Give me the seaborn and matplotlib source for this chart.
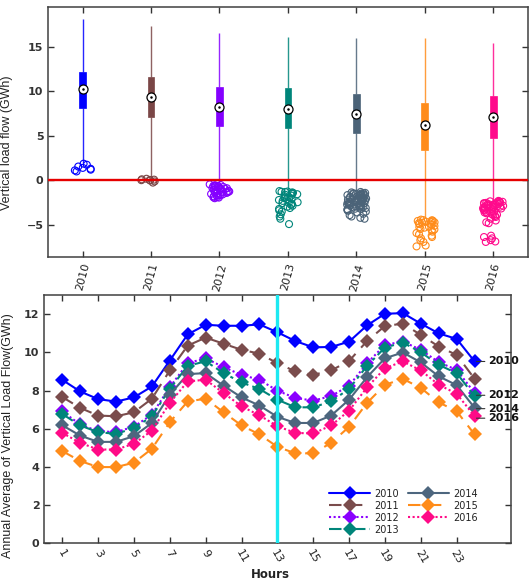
import numpy as np
import pandas as pd
import matplotlib
matplotlib.use("Agg")
import matplotlib.pyplot as plt
import seaborn as sns
from matplotlib.lines import Line2D
from matplotlib.legend_handler import HandlerLine2D

# ---------------- data ----------------
years = ["2010", "2011", "2012", "2013", "2014", "2015", "2016"]
colors = ["#0000ff", "#7a4646", "#8400ff", "#00857a", "#4b6378", "#ff8c1a", "#ff0a8c"]

# box statistics (GWh) for the top panel: whisker low, Q1, median, Q3, whisker high
whis_lo = [1.9, 0.2, -0.25, -1.05, -1.2, -4.2, -2.15]
q1 = [8.1, 7.05, 6.12, 5.82, 5.3, 3.43, 4.74]
med = [10.22, 9.29, 8.2, 8.02, 7.46, 6.23, 7.13]
q3 = [12.2, 11.53, 10.45, 10.34, 9.7, 8.62, 9.4]
whis_hi = [18.06, 17.3, 16.57, 16.1, 15.9, 16.0, 15.45]

# outliers per year
o2010 = [1.87, 1.75, 1.55, 1.4, 1.3, 1.2, 1.12, 1.0]
o2011 = [0.12, 0.05, 0.02, -0.02, 0.08, 0.18, -0.12, -0.25]
o2012 = [-0.45, -0.52, -0.58, -0.63, -0.7, -0.74, -0.81, -0.86, -0.92, -0.97, -1.03, -1.08,
         -1.12, -1.18, -1.24, -1.29, -1.33, -1.41, -1.46, -1.52, -1.58, -1.63, -1.71, -1.78,
         -1.86, -1.93, -2.0, -0.55, -0.68, -0.88, -1.02, -1.21, -1.38, -1.66, -1.9, -0.62, -0.95]
o2013 = [-1.2, -1.25, -1.3, -1.35, -1.4, -1.45, -1.5, -1.62, -1.7, -1.8, -1.92, -2.0, -2.1,
         -2.2, -2.3, -2.45, -2.55, -2.62, -2.75, -2.85, -2.95, -3.1, -3.2, -3.35, -3.5, -3.8,
         -4.05, -4.3, -4.9, -1.28, -1.55, -2.05, -2.5]
o2014 = [-1.3, -1.35, -1.4, -1.42, -1.48, -1.5, -1.55, -1.6, -1.63, -1.7, -1.72, -1.78, -1.8,
         -1.85, -1.9, -1.93, -2.0, -2.02, -2.08, -2.1, -2.15, -2.2, -2.24, -2.3, -2.33, -2.4,
         -2.42, -2.48, -2.5, -2.55, -2.6, -2.63, -2.7, -2.72, -2.8, -2.85, -2.9, -2.95, -3.0,
         -3.05, -3.1, -3.18, -3.25, -3.3, -3.4, -3.5, -3.6, -3.75, -3.9, -4.05, -4.2, -4.3,
         -1.45, -1.65, -1.88, -2.12, -2.36, -2.58, -2.76, -2.98, -3.22, -1.52, -2.27, -2.66]
o2015 = [-4.4, -4.45, -4.5, -4.55, -4.6, -4.65, -4.7, -4.75, -4.8, -4.9, -5.0, -5.1, -5.2,
         -5.3, -5.45, -5.6, -5.75, -5.9, -6.05, -6.2, -6.35, -6.5, -6.7, -6.9, -7.3, -7.4,
         -4.48, -4.62, -4.85, -5.25, -5.5]
o2016 = [-2.3, -2.35, -2.4, -2.45, -2.5, -2.55, -2.6, -2.65, -2.7, -2.75, -2.8, -2.85, -2.9,
         -2.95, -3.0, -3.05, -3.1, -3.15, -3.2, -3.3, -3.4, -3.5, -3.6, -3.7, -3.8, -3.9, -4.0,
         -4.1, -4.3, -4.5, -4.7, -4.8, -2.38, -2.52, -2.68, -2.82, -2.98, -3.12, -3.28, -3.45,
         -3.62, -3.85, -2.42, -2.6, -2.9, -6.2, -6.35, -6.5, -6.7, -6.85, -6.9]
outliers = [o2010, o2011, o2012, o2013, o2014, o2015, o2016]

# hourly annual averages (GWh)
hours = list(range(1, 25))
v2010 = [8.56, 7.95, 7.55, 7.42, 7.64, 8.21, 9.57, 10.94, 11.44, 11.39, 11.39, 11.46,
         11.05, 10.59, 10.26, 10.28, 10.56, 11.41, 12.02, 12.05, 11.50, 10.99, 10.70, 9.52]
v2011 = [7.66, 7.09, 6.69, 6.65, 6.86, 7.57, 9.05, 10.35, 10.77, 10.45, 10.13, 9.93,
         9.43, 9.00, 8.82, 9.05, 9.55, 10.59, 11.38, 11.50, 10.91, 10.30, 9.86, 8.61]
v2012 = [6.91, 6.22, 5.87, 5.82, 6.11, 6.74, 8.18, 9.43, 9.69, 9.22, 8.82, 8.56,
         7.99, 7.61, 7.47, 7.71, 8.25, 9.43, 10.39, 10.56, 10.13, 9.48, 9.08, 7.87]
v2013 = [6.77, 6.17, 5.82, 5.73, 6.03, 6.65, 8.09, 9.29, 9.53, 8.91, 8.42, 8.08,
         7.52, 7.12, 7.12, 7.43, 8.09, 9.29, 10.25, 10.51, 10.00, 9.34, 8.91, 7.69]
v2014 = [6.18, 5.64, 5.31, 5.31, 5.61, 6.30, 7.78, 8.86, 8.91, 8.25, 7.64, 7.21,
         6.62, 6.30, 6.30, 6.69, 7.52, 8.70, 9.69, 9.99, 9.47, 8.74, 8.28, 7.09]
v2015 = [4.83, 4.31, 3.99, 3.99, 4.22, 4.95, 6.34, 7.43, 7.57, 6.86, 6.17, 5.70,
         5.05, 4.71, 4.71, 5.26, 6.10, 7.35, 8.30, 8.61, 8.13, 7.38, 6.91, 5.70]
v2016 = [5.78, 5.26, 4.91, 4.91, 5.21, 5.90, 7.35, 8.48, 8.56, 7.87, 7.17, 6.70,
         6.13, 5.78, 5.75, 6.17, 6.95, 8.16, 9.17, 9.52, 9.05, 8.30, 7.83, 6.65]
series = [v2010, v2011, v2012, v2013, v2014, v2015, v2016]
line_colors = ["#0000ff", "#7a4c4c", "#8a00ff", "#00857a", "#4d667e", "#ff8c1a", "#ff0a87"]
end_labels = ["2010", "2012", "2014", "2016"]
end_label_y = [9.52, 7.75, 7.05, 6.55]
hour_ticks = list(range(1, 24, 2))

# ---------------- style ----------------
sns.set_theme(style="ticks")
plt.rcParams["font.family"] = ["DejaVu Sans"]
plt.rcParams["axes.edgecolor"] = "#404040"
plt.rcParams["axes.linewidth"] = 1.1
narrow = ["Liberation Sans Narrow", "Liberation Sans", "DejaVu Sans"]

fig = plt.figure(figsize=(5.31, 5.85), dpi=100)
ax1 = fig.add_axes([0.091, 0.5602, 0.9025, 0.4274])
ax2 = fig.add_axes([0.0834, 0.0713, 0.878, 0.4244])

# ---------------- top panel ----------------
box_df = pd.DataFrame({
    "year": np.repeat(years, 5),
    "flow": np.ravel(np.column_stack([whis_lo, q1, med, q3, whis_hi])),
})
for y, c in zip(years, colors):
    sub = box_df[box_df["year"] == y]
    sns.boxplot(data=sub, x="year", y="flow", order=years, ax=ax1, width=0.1,
                whis=(0, 100), showcaps=False, showfliers=False, color=c,
                linecolor=c, saturation=1, linewidth=0.5,
                whiskerprops={"linewidth": 1.0, "alpha": 0.85},
                medianprops={"linewidth": 0})

out_df = pd.DataFrame({
    "year": np.concatenate([[y] * len(o) for y, o in zip(years, outliers)]),
    "flow": np.concatenate(outliers),
})
np.random.seed(3)
n0 = len(ax1.collections)
sns.stripplot(data=out_df, x="year", y="flow", hue="year", order=years, hue_order=years,
              palette=colors, jitter=0.15, size=5, ax=ax1, legend=False)
for coll in ax1.collections[n0:]:
    fc = coll.get_facecolors()
    coll.set_edgecolors(fc)
    coll.set_facecolors("none")
    coll.set_linewidths(0.8)

ax1.axhline(0, color="#e60000", lw=1.7, zorder=4)

med_df = pd.DataFrame({"year": years, "flow": med})
sns.stripplot(data=med_df, x="year", y="flow", order=years, jitter=False, color="white",
              edgecolor="black", linewidth=0.9, size=6.5, ax=ax1, zorder=6)
sns.stripplot(data=med_df, x="year", y="flow", order=years, jitter=False, color="black",
              size=1.8, ax=ax1, zorder=7)

ax1.set_xlim(-0.5, 6.5)
ax1.set_ylim(-8.62, 19.4)
ax1.set_yticks([-5, 0, 5, 10, 15])
ax1.set_xlabel("")
ax1.set_ylabel("Vertical load flow (GWh)", family=narrow, fontsize=9, color="#222222")
ax1.yaxis.set_label_coords(-0.073, 0.46)
ax1.tick_params(direction="in", top=True, right=True, length=4, width=1, colors="#333333",
                labelsize=8)
plt.setp(ax1.get_yticklabels(), fontweight="bold")
plt.setp(ax1.get_xticklabels(), rotation=75, fontsize=8, color="#222222")

# ---------------- bottom panel ----------------
line_df = pd.DataFrame({
    "hour": np.tile(hours, len(years)),
    "flow": np.concatenate(series),
    "year": np.repeat(years, len(hours)),
})
dash_map = {"2010": "", "2011": (6, 4), "2012": (1, 1.2), "2013": (6, 2, 1.5, 2),
            "2014": "", "2015": (6, 4), "2016": (1, 1.2)}
marker_map = {y: "D" for y in years}
sns.lineplot(data=line_df, x="hour", y="flow", hue="year", style="year",
             hue_order=years, style_order=years, palette=line_colors, dashes=dash_map,
             markers=marker_map, markersize=7, markeredgewidth=0, linewidth=1.5,
             ax=ax2, legend=False)
ax2.axvline(13, color="#1de9f2", lw=2.4, zorder=5)

for lab, yv in zip(end_labels, end_label_y):
    ax2.annotate(lab, xy=(24.1, yv), xytext=(24.75, yv), textcoords="data",
                 va="center", ha="left", fontsize=8, fontweight="bold", color="#111111",
                 arrowprops=dict(arrowstyle="-", color="#333333", lw=0.8,
                                 shrinkA=0, shrinkB=0),
                 annotation_clip=False, zorder=8)


class MarkerLeftHandler(HandlerLine2D):
    def get_xdata(self, legend, xdescent, ydescent, width, height, fontsize):
        xdata = np.array([-xdescent, -xdescent + width])
        xdata_marker = np.array([-xdescent + 0.27 * width])
        return xdata, xdata_marker


handles = []
for y, c in zip(years, line_colors):
    d = dash_map[y]
    h = Line2D([], [], color=c, marker="D", markersize=7, markeredgewidth=0, lw=1.5)
    if d != "":
        h.set_dashes(d)
    handles.append(h)
leg = ax2.legend(handles, years, loc="upper left", bbox_to_anchor=(0.611, 0.22), ncol=2,
                 frameon=False, fontsize=7, handlelength=4.2, handletextpad=0.45,
                 columnspacing=0.9, labelspacing=0.2, borderpad=0, borderaxespad=0,
                 handler_map={Line2D: MarkerLeftHandler(numpoints=1)})
for t in leg.get_texts():
    t.set_color("#222222")

ax2.set_xlim(0, 26)
ax2.set_ylim(0, 13)
ax2.set_xticks(hour_ticks)
ax2.set_yticks([0, 2, 4, 6, 8, 10, 12])
ax2.tick_params(direction="in", top=True, right=True, length=4, width=1, colors="#333333",
                labelsize=8)
plt.setp(ax2.get_yticklabels(), fontweight="bold")
plt.setp(ax2.get_xticklabels(), rotation=-60, ha="center", va="top", fontsize=8,
         color="#222222")
ax2.set_xlabel("Hours", fontsize=8.5, fontweight="bold", color="#222222")
ax2.xaxis.set_label_coords(0.484, -0.1)
ax2.set_ylabel("Annual Average of Vertical Load Flow(GWh)", family=narrow, fontsize=9,
               color="#222222")
ax2.yaxis.set_label_coords(-0.066, 0.434)

fig.savefig("out.png", dpi=100)
